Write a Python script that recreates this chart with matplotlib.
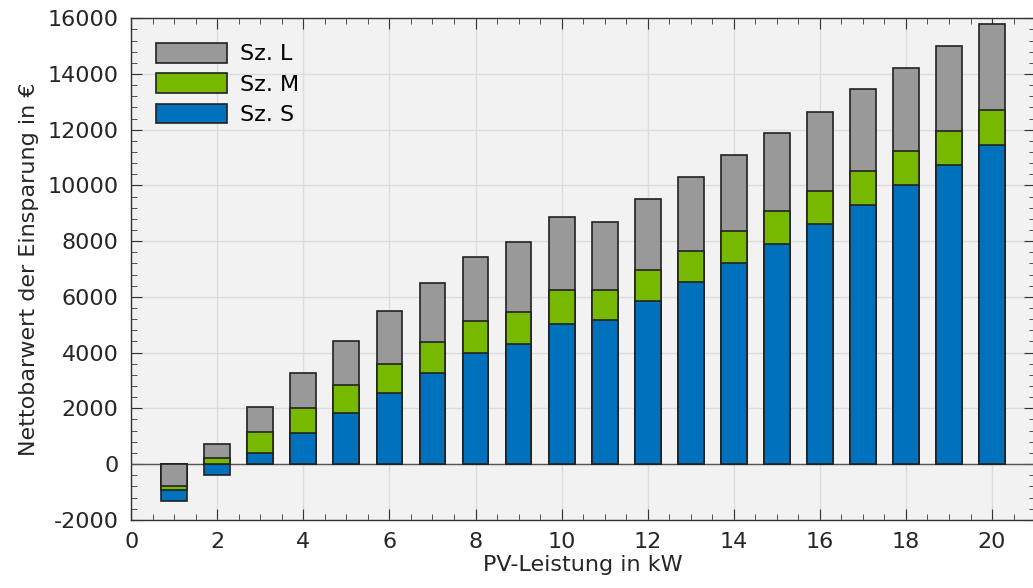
import matplotlib.pyplot as plt
from matplotlib.ticker import MultipleLocator

plt.rcParams["axes.unicode_minus"] = False

# PV-Leistung in kW
pv_kw = list(range(1, 21))

# Nettobarwert je Szenario (in Euro)
sz_s = [-1330, -395, 384, 1113, 1845, 2563, 3281, 3999, 4297, 5026,
        5184, 5852, 6534, 7205, 7898, 8605, 9298, 10016, 10734, 11466]
sz_m = [-935, 230, 1163, 2010, 2825, 3604, 4369, 5134, 5471, 6236,
        6261, 6979, 7661, 8365, 9083, 9801, 10508, 11237, 11969, 12723]
sz_l = [-790, 732, 2060, 3256, 4405, 5482, 6498, 7446, 7959, 8867,
        8688, 9503, 10293, 11082, 11872, 12651, 13452, 14206, 14995, 15785]

series = [("Sz. L", sz_l, "#999999"),
          ("Sz. M", sz_m, "#77b900"),
          ("Sz. S", sz_s, "#0072bd")]

fig = plt.figure(figsize=(10.33, 5.88), dpi=100)
fig.patch.set_facecolor("white")
ax = fig.add_axes([0.127, 0.116, 0.875, 0.853])
ax.set_facecolor("#f2f2f2")

# bars overlap from zero; the larger magnitude sits behind
handles = {}
for i, x in enumerate(pv_kw):
    vals = [(name, vals[i], col) for name, vals, col in series]
    vals.sort(key=lambda t: -abs(t[1]))
    for z, (name, v, col) in enumerate(vals):
        b = ax.bar(x, v, width=0.6, color=col, edgecolor="#222222",
                   linewidth=1.2, zorder=3 + z)
        handles[name] = b

ax.axhline(0, color="#555555", linewidth=1.0, zorder=2)

ax.set_xlim(0, 21)
ax.set_ylim(-2000, 16000)
ax.xaxis.set_major_locator(MultipleLocator(2))
ax.xaxis.set_minor_locator(MultipleLocator(0.5))
ax.yaxis.set_major_locator(MultipleLocator(2000))
ax.yaxis.set_minor_locator(MultipleLocator(400))
ax.tick_params(which="both", direction="in", top=True, right=True,
               color="#333333")
ax.tick_params(which="major", length=8, pad=9, labelsize=16,
               labelcolor="#262626")
ax.tick_params(which="minor", length=4.5)
ax.grid(True, which="major", color="#dcdcdc", linewidth=1.0, zorder=0)
ax.set_axisbelow(True)
for sp in ax.spines.values():
    sp.set_color("#333333")
    sp.set_linewidth(1.0)

ax.set_xlabel("PV-Leistung in kW", fontsize=16, color="#262626", labelpad=2)
ax.set_ylabel("Nettobarwert der Einsparung in €", fontsize=16,
              color="#262626", labelpad=6)

names = ["Sz. L", "Sz. M", "Sz. S"]
leg = ax.legend([handles[n] for n in names], names, loc="upper left",
                fontsize=16, frameon=False, handlelength=3.2,
                handleheight=1.0, labelspacing=0.4, handletextpad=0.6,
                borderaxespad=0.8, borderpad=0.3)

fig.savefig("out.png", dpi=100)
